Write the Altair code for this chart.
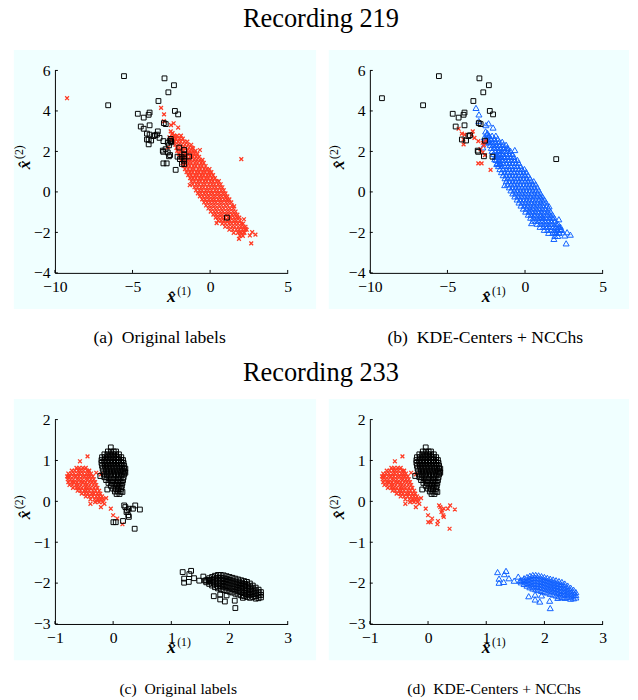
import altair as alt
import pandas as pd

# ---------------- Recording 219 ----------------
# black in (a), black in (b)
r219_sq_both_x = [-5.55, -6.57, -2.94, -2.33, -2.69, -3.33, -4.66, -3.90, -3.96, -4.28, -2.27, -2.06,
                  -2.98, -2.86, -3.90, -4.47, -3.64, -3.55, -4.07, -3.80, -2.58, -3.05, -3.02, -2.65, -2.10]
r219_sq_both_y = [5.72, 4.28, 5.61, 5.27, 4.92, 4.49, 3.86, 3.92, 3.81, 3.67, 4.00, 3.83,
                  3.40, 3.35, 3.29, 3.23, 2.76, 2.80, 2.59, 2.54, 2.53, 2.04, 1.98, 1.76, 1.74]
# black in (a), red in (b)
r219_sq_red_x = [-4.28, -4.07, -3.90, -3.37, -3.43, -3.26, -3.01, -2.73, -2.52, -2.65, -3.01, -2.80,
                 -2.22, -2.58, -3.96, -3.96, -2.87, -2.73]
r219_sq_red_y = [3.12, 2.88, 2.83, 2.99, 2.83, 2.67, 2.51, 2.43, 2.51, 2.30, 1.41, 1.41,
                 1.09, 1.82, 2.35, 2.59, 2.11, 1.95]
# black in (a), blue in (b)
r219_sq_blue_x = [-2.54, -1.99, -1.67, -1.67, -1.67, -1.67, -1.67, -1.36, -1.84, -1.95, -1.82, 1.08, -2.50]
r219_sq_blue_y = [2.62, 2.19, 2.07, 1.86, 1.70, 1.54, 1.38, 1.75, 1.74, 1.62, 1.38, -1.27, 2.45]
# red in (a), black in (b)
r219_red_blk_x = [-9.22, 2.01]
r219_red_blk_y = [4.63, 1.62]
# red in (a), blue in (b): scattered points
r219_red_blue_x = [-3.16, -2.97, -2.35, -2.06, -2.54, -2.42, -0.66, -1.10, -1.31, 0.42, 1.86, 2.65,
                   2.71, 2.92, 2.56, 2.29, 2.18, 1.93, 1.55, 2.18, -2.45, -2.30, -2.62, -2.20, -2.50,
                   -2.36, -2.72, -2.98, -2.52]
r219_red_blue_y = [4.15, 3.83, 3.39, 3.18, 2.99, 2.91, 2.07, 2.15, 0.34, -1.54, -2.32, -2.54,
                   -1.99, -2.11, -2.15, -1.83, -1.99, -1.99, -0.71, -1.35, 2.85, 2.75, 2.70, 2.60, 2.55,
                   2.45, 2.20, 3.50, 3.30]
# red in (a), blue in (b): dense band, rows of (y, x values)
r219_band_rows = [
    (2.78, [-2.33, -2.12, -1.88]),
    (2.63, [-2.41, -2.22, -1.97, -1.76]),
    (2.48, [-2.28, -2.07, -1.89, -1.66, -1.47]),
    (2.33, [-2.24, -2.03, -1.83, -1.62, -1.41, -1.22]),
    (2.18, [-2.17, -1.98, -1.79, -1.57, -1.36, -1.16]),
    (2.03, [-2.12, -1.91, -1.72, -1.49, -1.31, -1.12, -0.94]),
    (1.88, [-2.02, -1.81, -1.62, -1.41, -1.19, -1.01, -0.82]),
    (1.73, [-1.93, -1.71, -1.52, -1.29, -1.11, -0.90, -0.71]),
    (1.58, [-1.86, -1.66, -1.44, -1.26, -1.04, -0.86, -0.66, -0.49]),
    (1.43, [-1.79, -1.61, -1.39, -1.21, -0.99, -0.81, -0.59, -0.41]),
    (1.28, [-1.71, -1.49, -1.31, -1.09, -0.91, -0.69, -0.51, -0.29]),
    (1.13, [-1.62, -1.41, -1.19, -1.02, -0.79, -0.61, -0.39, -0.21, -0.04]),
    (0.98, [-1.52, -1.31, -1.12, -0.89, -0.71, -0.49, -0.31, -0.09, 0.08]),
    (0.83, [-1.41, -1.22, -0.99, -0.81, -0.59, -0.41, -0.19, -0.01, 0.19]),
    (0.68, [-1.29, -1.11, -0.91, -0.69, -0.51, -0.29, -0.11, 0.12, 0.31]),
    (0.53, [-1.21, -1.01, -0.79, -0.61, -0.39, -0.21, 0.01, 0.19, 0.41, 0.56]),
    (0.38, [-1.12, -0.89, -0.71, -0.49, -0.31, -0.09, 0.11, 0.29, 0.51, 0.68]),
    (0.23, [-1.01, -0.81, -0.59, -0.41, -0.19, 0.01, 0.21, 0.39, 0.61, 0.79]),
    (0.08, [-0.91, -0.69, -0.51, -0.29, -0.11, 0.09, 0.31, 0.49, 0.71, 0.88]),
    (-0.07, [-0.79, -0.61, -0.39, -0.21, 0.01, 0.19, 0.41, 0.59, 0.81, 0.99]),
    (-0.22, [-0.66, -0.46, -0.24, -0.06, 0.16, 0.34, 0.56, 0.74, 0.96, 1.11]),
    (-0.37, [-0.51, -0.31, -0.09, 0.11, 0.29, 0.51, 0.69, 0.91, 1.09, 1.24]),
    (-0.52, [-0.39, -0.19, 0.01, 0.21, 0.39, 0.61, 0.79, 1.01, 1.19, 1.36]),
    (-0.67, [-0.26, -0.04, 0.16, 0.34, 0.56, 0.74, 0.96, 1.14, 1.41]),
    (-0.82, [-0.11, 0.09, 0.31, 0.49, 0.71, 0.89, 1.11, 1.29, 1.51]),
    (-0.97, [0.04, 0.26, 0.44, 0.66, 0.84, 1.06, 1.24, 1.46, 1.64]),
    (-1.12, [0.21, 0.39, 0.61, 0.79, 1.01, 1.19, 1.41, 1.59, 1.76]),
    (-1.27, [0.36, 0.54, 0.76, 0.94, 1.16, 1.34, 1.56, 1.74, 1.88]),
    (-1.42, [0.52, 0.71, 0.89, 1.11, 1.29, 1.51, 1.69, 1.91]),
    (-1.57, [0.78, 0.99, 1.21, 1.39, 1.61, 1.79, 2.01, 2.12]),
    (-1.72, [0.97, 1.19, 1.41, 1.59, 1.81, 1.99, 2.16, 2.28]),
    (-1.87, [1.24, 1.46, 1.69, 1.88, 2.09, 2.26, 2.36]),
    (-2.02, [1.52, 1.79, 2.01, 2.21]),
    (-2.17, [1.92, 2.11]),
]

# ---------------- Recording 233 ----------------
# red in (c), red in (d): dense cloud rows (y, x values)
r233_red_rows = [
    (0.82, [-0.63, -0.58, -0.52, -0.47]),
    (0.75, [-0.71, -0.66, -0.60, -0.56, -0.51, -0.45, -0.41]),
    (0.68, [-0.77, -0.72, -0.67, -0.61, -0.57, -0.52, -0.46, -0.42, -0.38]),
    (0.61, [-0.79, -0.74, -0.68, -0.64, -0.59, -0.53, -0.49, -0.44, -0.40, -0.35]),
    (0.54, [-0.78, -0.73, -0.68, -0.62, -0.58, -0.53, -0.47, -0.43, -0.38, -0.33]),
    (0.47, [-0.77, -0.71, -0.67, -0.62, -0.56, -0.52, -0.47, -0.41, -0.36, -0.31]),
    (0.40, [-0.75, -0.70, -0.64, -0.60, -0.55, -0.49, -0.45, -0.40, -0.34, -0.29]),
    (0.33, [-0.69, -0.63, -0.59, -0.54, -0.48, -0.44, -0.39, -0.33, -0.27]),
    (0.26, [-0.61, -0.56, -0.50, -0.46, -0.41, -0.35, -0.30, -0.24]),
    (0.19, [-0.54, -0.48, -0.43, -0.37, -0.33, -0.27, -0.22]),
    (0.12, [-0.47, -0.41, -0.35, -0.29, -0.24, -0.19]),
    (0.05, [-0.39, -0.32, -0.26, -0.21, -0.17]),
    (-0.02, [-0.31, -0.24, -0.18]),
]
r233_red_out_x = [-0.44, -0.57, -0.42, -0.29, -0.21, -0.04, 0.00, 0.07, 0.16, -0.21, -0.15, -0.39,
                  -0.26, -0.77, -0.12]
r233_red_out_y = [1.10, 0.98, 0.74, 0.70, 0.66, -0.18, -0.34, -0.42, -0.56, -0.14, -0.06, -0.06,
                  0.02, 0.60, 0.08]
# black in (c), black in (d): upper cloud rows (y, x values)
r233_top_rows = [
    (1.22, [-0.09, -0.04, 0.01, 0.05]),
    (1.15, [-0.15, -0.10, -0.05, 0.00, 0.05, 0.10]),
    (1.08, [-0.19, -0.14, -0.09, -0.04, 0.01, 0.06, 0.10, 0.14]),
    (1.01, [-0.20, -0.15, -0.10, -0.05, 0.00, 0.05, 0.10, 0.14, 0.17]),
    (0.94, [-0.20, -0.15, -0.10, -0.05, 0.00, 0.05, 0.10, 0.14, 0.18]),
    (0.87, [-0.19, -0.14, -0.09, -0.04, 0.01, 0.06, 0.11, 0.15, 0.19]),
    (0.80, [-0.18, -0.13, -0.08, -0.03, 0.02, 0.07, 0.12, 0.16, 0.19]),
    (0.73, [-0.17, -0.12, -0.07, -0.02, 0.03, 0.08, 0.13, 0.17, 0.20]),
    (0.66, [-0.16, -0.11, -0.05, 0.00, 0.05, 0.10, 0.15, 0.19]),
    (0.59, [-0.15, -0.10, -0.04, 0.02, 0.08, 0.13, 0.18]),
    (0.52, [-0.12, -0.06, 0.00, 0.06, 0.11, 0.17]),
    (0.45, [-0.08, -0.02, 0.04, 0.09, 0.13, 0.16]),
    (0.38, [-0.04, 0.02, 0.07, 0.11, 0.15]),
    (0.31, [0.00, 0.05, 0.09, 0.14]),
    (0.24, [0.03, 0.08, 0.13]),
    (0.18, [0.06, 0.11]),
]
r233_top_out_x = [-0.04, -0.22, -0.10, 0.21, 0.21, 0.16]
r233_top_out_y = [1.32, 0.62, 0.29, 0.70, 0.80, 0.23]
# black in (c), red in (d)
r233_mid_x = [0.21, 0.19, 0.27, 0.34, 0.38, 0.46, 0.23, 0.26, 0.27, 0.17, 0.045, 0.005, 0.37, 0.24]
r233_mid_y = [-0.14, -0.10, -0.18, -0.18, -0.10, -0.20, -0.26, -0.34, -0.38, -0.48, -0.51, -0.51, -0.67, -0.22]
# black in (c), blue in (d): lower cloud columns (x, y values)
r233_low_cols = [
    (1.60, [-1.93, -1.98]),
    (1.65, [-1.88, -1.95, -2.02]),
    (1.70, [-1.85, -1.92, -1.99, -2.06]),
    (1.75, [-1.82, -1.89, -1.96, -2.03, -2.10]),
    (1.80, [-1.80, -1.87, -1.94, -2.01, -2.08, -2.13]),
    (1.85, [-1.80, -1.87, -1.94, -2.01, -2.08, -2.15]),
    (1.90, [-1.81, -1.88, -1.95, -2.02, -2.09, -2.17]),
    (1.95, [-1.83, -1.90, -1.97, -2.04, -2.11, -2.19]),
    (2.00, [-1.85, -1.92, -1.99, -2.06, -2.13, -2.21]),
    (2.05, [-1.87, -1.94, -2.01, -2.08, -2.15, -2.23]),
    (2.10, [-1.89, -1.96, -2.03, -2.10, -2.18, -2.26]),
    (2.15, [-1.91, -1.98, -2.05, -2.12, -2.20, -2.28]),
    (2.20, [-1.93, -2.00, -2.07, -2.14, -2.22, -2.30]),
    (2.25, [-1.95, -2.02, -2.09, -2.17, -2.24, -2.32]),
    (2.30, [-1.97, -2.04, -2.12, -2.19, -2.27, -2.34]),
    (2.35, [-2.01, -2.08, -2.15, -2.22, -2.29, -2.36]),
    (2.40, [-2.06, -2.13, -2.20, -2.27, -2.34]),
    (2.45, [-2.11, -2.18, -2.25, -2.32, -2.38]),
    (2.50, [-2.16, -2.23, -2.30, -2.37]),
    (2.54, [-2.22, -2.29, -2.35]),
]
r233_low_out_x = [1.195, 1.31, 1.34, 1.22, 1.22, 1.30, 1.39, 1.48, 1.55, 1.58, 1.64, 1.73, 1.84, 1.84,
                  1.92, 2.09, 2.10, 2.23, 1.95]
r233_low_out_y = [-1.73, -1.78, -1.70, -1.89, -1.99, -1.97, -1.88, -1.94, -1.84, -1.94, -1.92, -2.32,
                  -2.28, -2.40, -2.45, -2.43, -2.61, -2.36, -2.30]

# ---------------- build tables ----------------
def group(xs, ys, la, lb):
    return pd.DataFrame({"x": xs, "y": ys, "la": la, "lb": lb})

def rows_y(rows, la, lb):
    xs, ys = [], []
    for yv, xl in rows:
        for xv in xl:
            xs.append(xv); ys.append(yv)
    return group(xs, ys, la, lb)

def cols_x(cols, la, lb):
    xs, ys = [], []
    for xv, yl in cols:
        for yv in yl:
            xs.append(xv); ys.append(yv)
    return group(xs, ys, la, lb)

df219 = pd.concat([
    rows_y(r219_band_rows, "red", "blue"),
    group(r219_red_blue_x, r219_red_blue_y, "red", "blue"),
    group(r219_red_blk_x, r219_red_blk_y, "red", "black"),
    group(r219_sq_both_x, r219_sq_both_y, "black", "black"),
    group(r219_sq_red_x, r219_sq_red_y, "black", "red"),
    group(r219_sq_blue_x, r219_sq_blue_y, "black", "blue"),
], ignore_index=True)

df233 = pd.concat([
    rows_y(r233_red_rows, "red", "red"),
    group(r233_red_out_x, r233_red_out_y, "red", "red"),
    rows_y(r233_top_rows, "black", "black"),
    group(r233_top_out_x, r233_top_out_y, "black", "black"),
    group(r233_mid_x, r233_mid_y, "black", "red"),
    cols_x(r233_low_cols, "black", "blue"),
    group(r233_low_out_x, r233_low_out_y, "black", "blue"),
], ignore_index=True)

# ---------------- styling ----------------
FONT = "Liberation Serif"
BG = "#f0ffff"
RED = "#ff3b24"
BLUE = "#1060ff"
W = 238
X_PATH = "M-1,-1L1,1M-1,1L1,-1"
XHAT = "x\u0302"
one = pd.DataFrame({"a": [0]})


def txt(text, x, y, size, weight="normal", style="normal", align="center", angle=0, baseline="alphabetic"):
    kw = dict(font=FONT, fontSize=size, fontWeight=weight, fontStyle=style, color="black",
              align=align, baseline=baseline)
    if angle:
        kw["angle"] = angle
    return alt.Chart(one).mark_text(**kw).encode(x=alt.value(x), y=alt.value(y), text=alt.value(text))


def panel(df, col, xdom, ydom, xt, yt, caption, h, bgl, bgr, capdx, capsize, capdy):
    xaxis = alt.Axis(values=xt, title="", grid=False, ticks=False, tickSize=0,
                     labelFont=FONT, labelFontSize=16, labelColor="black", labelPadding=6,
                     domainColor="black", zindex=2, labelFlush=False)
    yaxis = alt.Axis(values=yt, title="", grid=False, ticks=False, tickSize=0,
                     labelFont=FONT, labelFontSize=16, labelColor="black", labelPadding=5,
                     domainColor="black", zindex=2, labelFlush=False)
    X = alt.X("x:Q", scale=alt.Scale(domain=xdom, nice=False, zero=False), axis=xaxis)
    Y = alt.Y("y:Q", scale=alt.Scale(domain=ydom, nice=False, zero=False), axis=yaxis)

    bg = alt.Chart(one).mark_rect(color=BG).encode(
        x=alt.value(bgl), x2=alt.value(W + bgr), y=alt.value(-21), y2=alt.value(h + 37))

    blue = alt.Chart(df[df[col] == "blue"]).mark_point(
        shape="triangle-up", filled=False, color=BLUE, size=38, strokeWidth=1, opacity=1).encode(x=X, y=Y)
    red = alt.Chart(df[df[col] == "red"]).mark_point(
        shape=X_PATH, filled=False, color=RED, size=15, strokeWidth=1.3, opacity=1).encode(x=X, y=Y)
    black = alt.Chart(df[df[col] == "black"]).mark_point(
        shape="square", filled=False, color="black", size=24, strokeWidth=1, opacity=1).encode(x=X, y=Y)

    xticks = alt.Chart(pd.DataFrame({"x": xt})).mark_rule(color="black").encode(
        x=X, y=alt.value(h), y2=alt.value(h - 3))
    yticks = alt.Chart(pd.DataFrame({"y": yt})).mark_rule(color="black").encode(
        y=Y, x=alt.value(0), x2=alt.value(3))

    # axis titles: bold italic x-hat with a superscript
    xt1 = txt(XHAT, W / 2, h + 30, 18, weight="bold", style="italic")
    xt2 = txt("(1)", W / 2 + 6, h + 23, 12, align="left")
    yt1 = txt(XHAT, -26, h / 2 - 7, 18, weight="bold", style="italic", angle=270)
    yt2 = txt("(2)", -33, h / 2 - 13, 12, align="left", angle=270)

    cap = txt(caption, W / 2 + capdx, h + capdy, capsize, baseline="middle")

    layers = [bg]
    if len(df[df[col] == "blue"]):
        layers.append(blue)
    layers += [red, black, xticks, yticks, xt1, xt2, yt1, yt2, cap]
    return alt.layer(*layers).properties(width=W, height=h)


H1, H2 = 207, 209
pa = panel(df219, "la", [-10, 5], [-4, 6], [-10, -5, 0, 5], [-4, -2, 0, 2, 4, 6],
           "(a)\u00a0 Original labels", H1, -42, 29, -12, 18, 67)
pb = panel(df219, "lb", [-10, 5], [-4, 6], [-10, -5, 0, 5], [-4, -2, 0, 2, 4, 6],
           "(b)\u00a0 KDE-Centers + NCChs", H1, -42, 27, -1, 18, 67)
pc = panel(df233, "la", [-1, 3], [-3, 2], [-1, 0, 1, 2, 3], [-3, -2, -1, 0, 1, 2],
           "(c)\u00a0 Original labels", H2, -42, 29, 7, 16, 67)
pd_ = panel(df233, "lb", [-1, 3], [-3, 2], [-1, 0, 1, 2, 3], [-3, -2, -1, 0, 1, 2],
            "(d)\u00a0 KDE-Centers + NCChs", H2, -42, 27, 8, 16, 67)

tbase = dict(fontSize=27, font=FONT, fontWeight="normal", anchor="middle", color="black", dy=-9)
row1 = alt.hconcat(pa, pb, spacing=10, title=alt.TitleParams("Recording 219", offset=8, **tbase))
row2 = alt.hconcat(pc, pd_, spacing=10, title=alt.TitleParams("Recording 233", offset=3, **tbase))

chart = alt.vconcat(row1, row2, spacing=11).properties(
    padding={"left": 4, "top": -11, "right": 0, "bottom": 0}
).configure_view(stroke="transparent")

chart.save("out.html", embed_options={"renderer": "svg", "actions": False})
